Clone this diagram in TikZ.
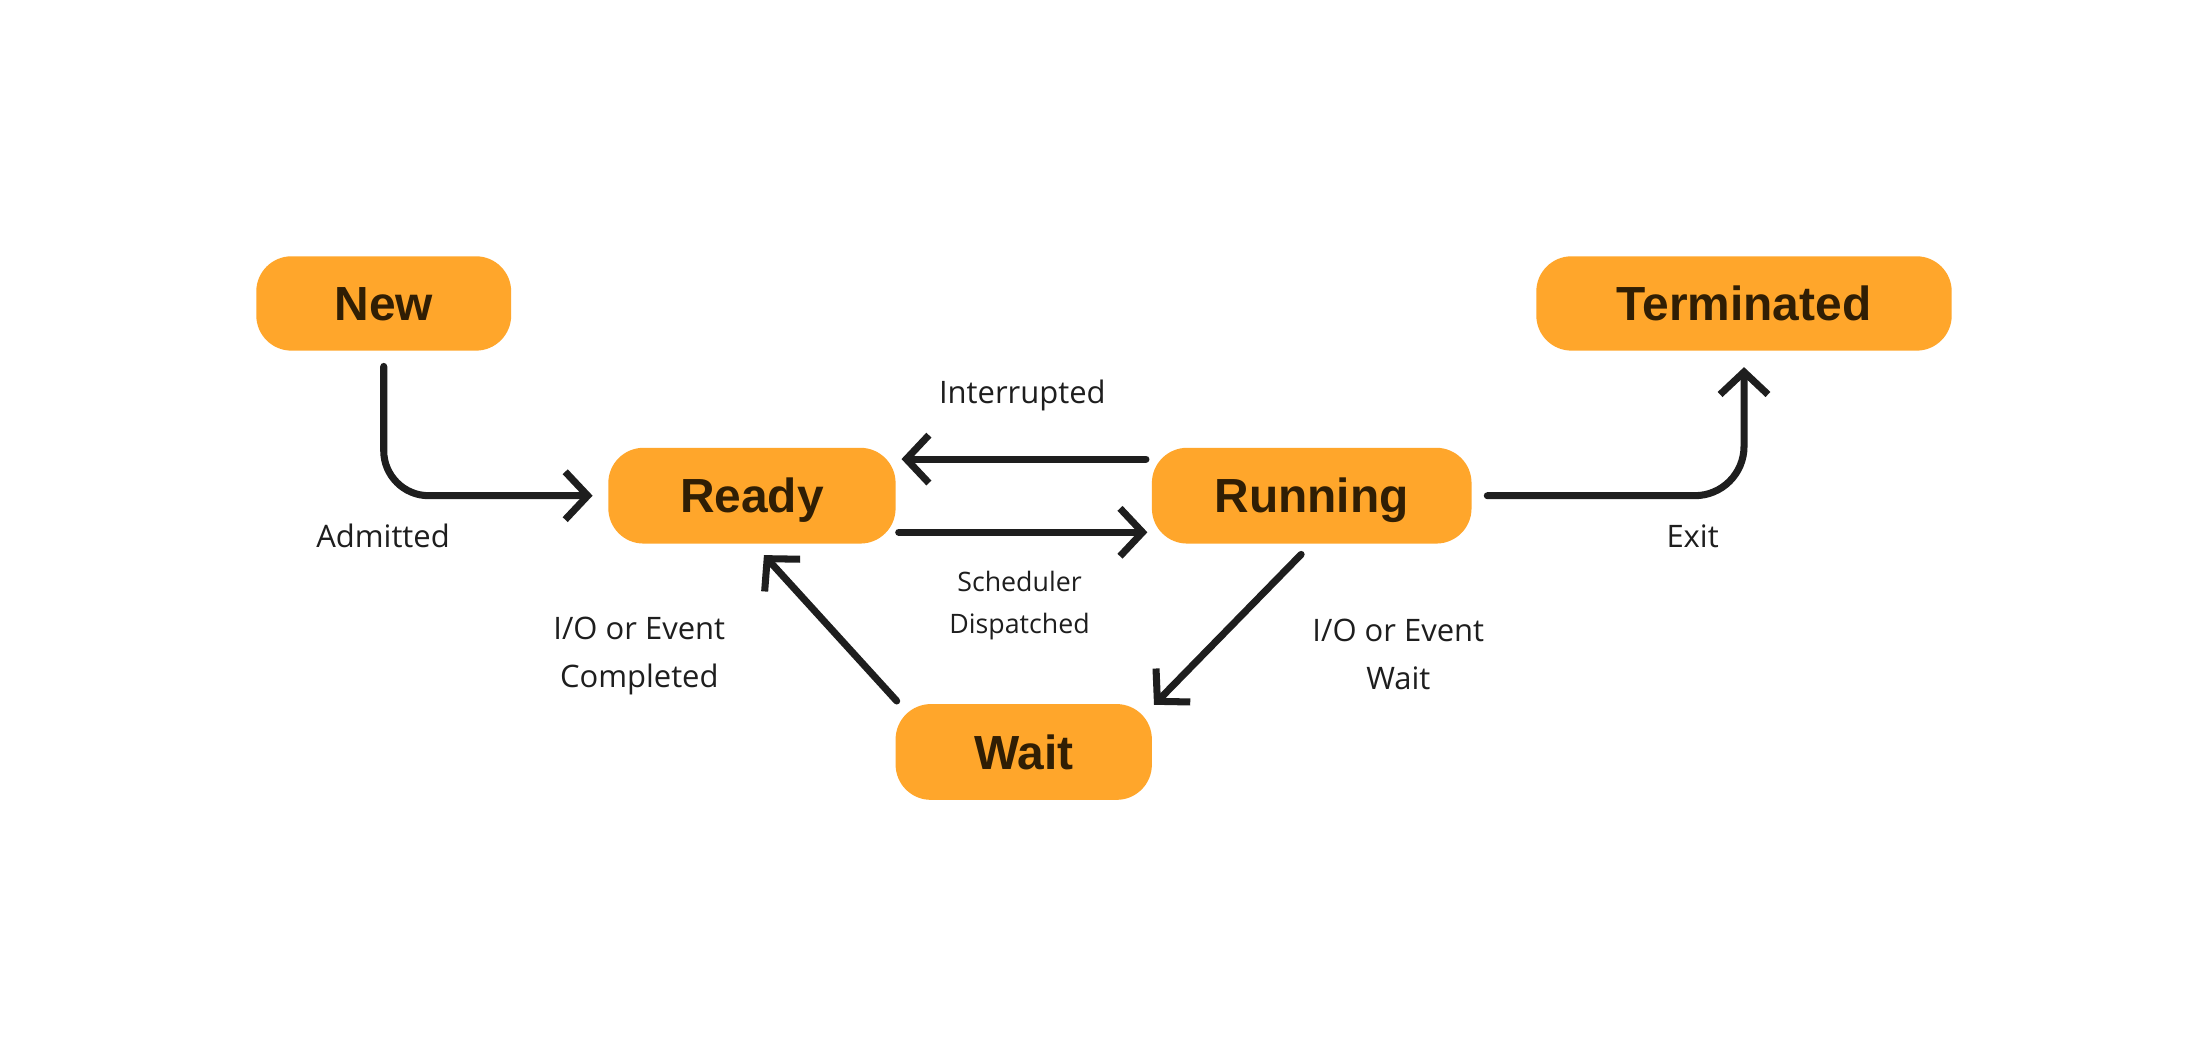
\documentclass[tikz,border=0pt]{standalone}
\usepackage{fontspec}
\setmainfont{Liberation Sans}
\newfontfamily\labelfont{Open Sans}
\usetikzlibrary{arrows.meta,calc}
\definecolor{boxfill}{RGB}{255,166,43}
\definecolor{boxtext}{RGB}{48,30,4}
\definecolor{ink}{RGB}{30,30,30}
\begin{document}
\begin{tikzpicture}[x=1pt,y=1pt,
  state/.style={fill=boxfill, rounded corners=25pt, text=boxtext,
    font=\fontsize{34}{40}\selectfont\bfseries, minimum height=67pt, inner sep=0pt,
    text height=24.5pt, text depth=0pt, draw=none},
  conn/.style={draw=ink, line width=5pt, line cap=round, line join=round,
    -{Straight Barb[length=16pt,width=34pt]}},
  lbl/.style={text=ink, font=\labelfont\fontsize{22}{34}\selectfont, align=center, inner sep=0pt},
  slbl/.style={text=ink, font=\labelfont\fontsize{19}{29.5}\selectfont, align=center, inner sep=0pt}]
\useasboundingbox[fill=white] (0,0) rectangle (1568,-750);
% states
\node[state, minimum width=181pt] (new) at (272.5,-215.5) {New};
\node[state, minimum width=295pt] (terminated) at (1238.5,-215.5) {Terminated};
\node[state, minimum width=204pt, minimum height=68pt] (ready) at (534,-352) {Ready};
\node[state, minimum width=227pt, minimum height=68pt] (running) at (931.5,-352) {Running};
\node[state, minimum width=182pt, minimum height=68pt] (wait) at (727,-534) {Wait};
% connectors
\draw[conn, rounded corners=32pt] ($(new.south)+(0,-11)$) |- ($(ready.west)+(-11,0)$);
\draw[conn] ($(running.west)+(-4,26)$) -- ($(ready.east)+(4,26)$);
\draw[conn] ($(ready.east)+(2,-26)$) -- ($(running.west)+(-3,-26)$);
\draw[conn] ($(running.south)+(-7.5,-7.5)$) -- ($(wait.north east)+(1.3,-0.7)$);
\draw[conn] ($(wait.north west)+(1,2)$) -- ($(ready.south)+(8.5,-8)$);
\draw[conn, rounded corners=35pt] ($(running.east)+(11,0)$) -| ($(terminated.south)+(0,-11.5)$);
% labels
\node[lbl] (ladm) at (272,-380.7) {Admitted};
\node[lbl] (lint) at (726,-281) {Interrupted};
\node[slbl] (lsch) at (724,-430) {Scheduler\\Dispatched};
\node[lbl] (liow) at (993,-465) {I/O or Event\\Wait};
\node[lbl] (lioc) at (454,-466) {I/O or Event\\Completed};
\node[lbl] (lexit) at (1202,-381) {Exit};
\end{tikzpicture}
\end{document}
